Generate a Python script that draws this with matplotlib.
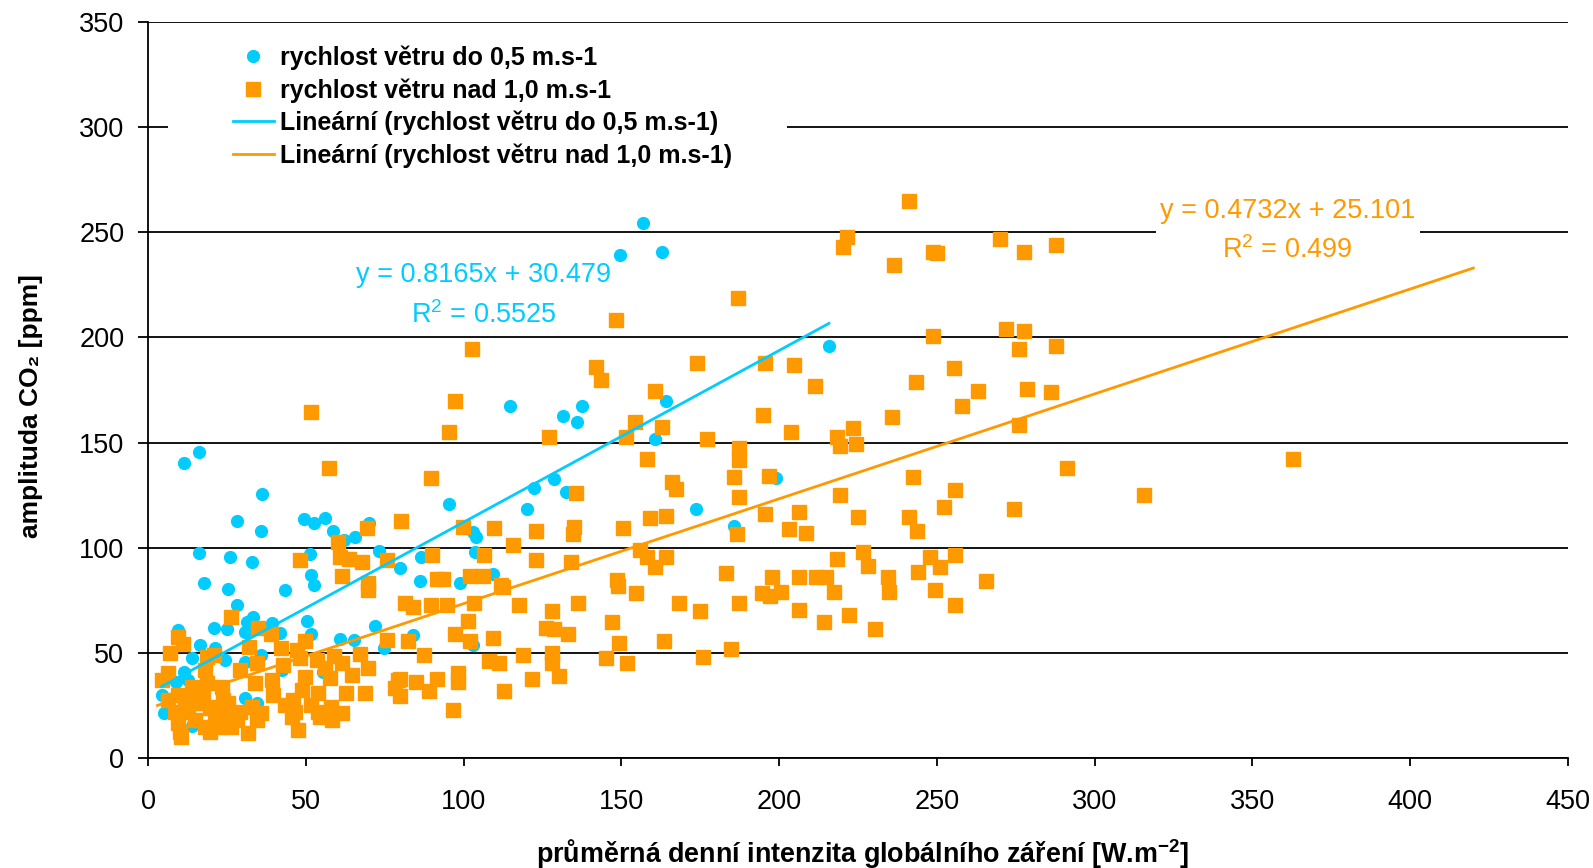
import numpy as np
import matplotlib.pyplot as plt
from matplotlib.patches import Rectangle

plt.rcParams['font.family'] = ['Liberation Sans', 'DejaVu Sans']
plt.rcParams['mathtext.fontset'] = 'custom'
plt.rcParams['mathtext.rm'] = 'Liberation Sans'
plt.rcParams['mathtext.bf'] = 'Liberation Sans:bold'

# wind speed up to 0.5 m/s
blue_x = [11.4, 16.3, 156.9, 149.6, 163.0, 215.8, 164.0, 114.7, 131.4, 137.5, 135.8, 160.7,
          128.7, 122.3, 132.6, 120.0, 173.8, 185.8, 199.0,
          36.2, 28.2, 35.7, 49.3, 52.7, 56.1, 58.7, 65.6, 70.0, 95.5, 103.1, 104.1, 16.2,
          26.1, 33.0, 51.3, 73.3, 79.8, 86.5, 103.6, 109.4, 17.8, 51.6, 52.7, 86.2, 98.9,
          25.3, 43.4, 62.0,
          28.1, 33.4, 31.3, 35.5, 50.5, 71.9, 21.0, 24.9, 9.6, 30.7, 39.2, 41.8, 51.8, 60.8,
          65.4, 74.9, 16.5, 21.2, 14.1, 24.4, 30.7, 35.8, 11.5, 12.8, 8.9, 4.3, 5.2, 13.8,
          18.6, 55.5, 30.7, 34.4, 42.4, 84.1, 103.1]
blue_y = [140.4, 145.4, 254.5, 239.2, 240.8, 195.9, 169.6, 167.4, 162.4, 167.4, 159.9, 151.8,
          132.5, 128.2, 126.6, 118.4, 118.4, 110.5, 133.0,
          125.7, 112.7, 107.8, 113.6, 111.9, 114.3, 108.1, 105.2, 111.6, 120.8, 107.6, 105.2, 97.3,
          95.7, 93.0, 96.8, 98.4, 90.2, 95.7, 97.8, 87.5, 83.0, 87.0, 82.3, 84.2, 83.0,
          80.4, 80.0, 103.7,
          72.8, 67.2, 64.8, 62.4, 65.3, 62.8, 61.7, 61.2, 60.9, 60.1, 64.0, 59.3, 59.0, 56.4,
          56.1, 52.2, 53.7, 52.2, 47.4, 46.6, 45.8, 49.0, 41.0, 37.1, 36.3, 30.0, 21.2, 15.2,
          37.9, 41.0, 28.4, 26.3, 41.8, 58.5, 53.7]

# wind speed above 1.0 m/s
orange_x = [241.2, 270.0, 248.8, 250.1, 277.6, 287.9, 236.5, 221.6, 220.1, 187.0, 148.3, 102.7,
            271.9, 277.6, 248.8, 276.1, 287.9, 255.4, 243.3, 263.1, 278.7, 286.3, 258.0, 276.1,
            291.3, 362.9, 315.7, 255.8, 252.1, 274.4, 247.8, 255.8, 251.0, 244.1, 265.7, 249.5,
            255.8,
            142.1, 143.4, 173.9, 195.5, 204.8, 211.3, 160.7, 194.9, 235.8, 203.7, 223.3, 218.4,
            219.4, 224.3, 127.1, 154.3, 163.0, 151.5, 177.0, 187.4, 187.4, 158.0, 185.8, 196.8,
            166.2, 167.3, 242.3, 135.6, 187.4, 219.4, 159.0, 164.0, 195.5, 206.4, 225.0, 241.2,
            243.7, 122.8, 135.0, 134.8, 150.4, 186.8, 203.2, 208.5, 115.8, 155.9, 158.0, 164.0,
            160.6, 122.8, 134.2, 218.4, 226.6, 228.2, 183.1, 197.6, 206.4, 211.7, 215.0, 234.6,
            148.5,
            194.7, 197.0, 200.5, 217.5, 234.7, 187.4, 206.4, 214.3, 222.0, 230.5, 174.9, 184.7,
            175.8,
            51.5, 97.3, 95.5, 57.5, 89.6, 80.3, 69.5, 99.9, 109.7, 60.3, 48.3, 60.8, 63.7, 67.7,
            75.6, 90.1, 106.5, 61.4, 91.5, 93.6, 102.0, 106.2, 69.6, 111.8,
            112.4, 149.0, 154.8, 168.4, 117.6, 128.1, 136.2, 103.3, 94.8, 89.7, 81.4, 84.1, 101.5,
            97.3, 102.0, 109.2, 82.5, 126.1, 128.6, 133.2, 147.2, 149.3, 163.5, 87.5, 108.1, 111.3,
            118.9, 127.9, 127.9, 145.0, 151.7, 130.3, 121.7, 112.9, 98.3, 98.3, 91.7, 84.9, 89.1,
            79.8, 79.8, 96.7,
            26.3, 34.9, 38.9, 9.6, 11.2, 6.9, 18.6, 21.0, 32.0, 42.1, 47.1, 49.7, 34.7, 42.9, 48.2,
            53.4, 59.0, 67.1, 75.6, 69.6, 4.3, 6.4, 29.2, 18.1, 61.4, 69.8, 49.7, 57.7, 64.5, 79.2,
            78.3, 62.7, 68.8, 53.9, 39.7, 39.2, 33.9, 23.4, 17.5, 13.8, 9.6, 6.4, 25.4, 21.2, 23.9,
            12.8, 8.6, 32.9, 29.2, 43.4, 46.6, 45.5, 51.8, 53.9, 58.0, 58.2, 54.5, 35.8, 34.7, 31.8,
            23.1, 19.6, 18.0, 10.1, 10.5, 9.4, 26.3, 28.1, 47.6, 14.9, 21.2, 24.4, 11.7, 16.0, 19.6,
            14.1, 18.6, 61.4, 46.1, 48.7, 56.0]
orange_y = [265.0, 246.6, 240.7, 240.0, 240.7, 243.9, 234.5, 247.9, 243.1, 218.6, 208.3, 194.3,
            204.0, 203.2, 200.8, 194.3, 196.0, 185.3, 179.0, 174.7, 175.5, 173.9, 167.4, 158.3,
            138.0, 142.0, 125.0, 127.4, 119.2, 118.4, 95.7, 96.5, 90.7, 88.3, 84.2, 79.9,
            72.8,
            186.0, 179.7, 188.0, 188.0, 186.9, 177.0, 174.7, 163.1, 162.3, 155.2, 156.7, 152.8,
            148.4, 149.3, 152.5, 159.9, 157.5, 152.5, 151.8, 147.3, 141.7, 142.0, 133.8, 134.1,
            131.4, 127.9, 133.8, 125.8, 124.2, 125.0, 114.0, 115.2, 116.0, 116.8, 114.4, 114.4,
            108.0, 107.9, 110.0, 106.5, 109.2, 106.3, 108.7, 107.1, 101.3, 98.9, 95.4, 95.4,
            90.7, 94.1, 93.3, 94.6, 98.1, 91.4, 88.1, 86.2, 86.2, 86.2, 86.2, 86.2,
            84.6,
            78.3, 77.0, 79.1, 79.1, 79.1, 73.6, 70.4, 64.5, 68.0, 61.3, 70.0, 51.7,
            48.2,
            164.7, 169.8, 155.0, 137.9, 133.0, 112.7, 109.5, 110.0, 109.5, 102.9, 94.0, 95.7, 94.4, 93.0,
            94.1, 96.5, 96.5, 86.5, 84.9, 84.9, 86.5, 86.5, 83.0, 82.3,
            81.5, 81.8, 78.6, 73.8, 72.8, 70.0, 73.6, 73.8, 72.8, 72.8, 73.6, 71.9, 65.3,
            59.0, 55.6, 57.2, 55.8, 62.0, 61.2, 59.0, 64.5, 54.8, 55.6, 49.0, 46.3, 45.0,
            49.0, 50.0, 45.0, 47.4, 45.0, 39.1, 37.6, 31.9, 40.3, 36.3, 37.6, 36.3, 31.9,
            37.4, 29.5, 22.8,
            66.9, 61.7, 59.0, 57.4, 54.2, 50.1, 48.2, 49.0, 52.9, 52.2, 51.4, 55.8, 45.3, 44.2, 47.4,
            46.6, 48.5, 49.4, 56.1, 79.9, 37.1, 40.3, 41.8, 41.8, 45.0, 42.7, 38.7, 37.9, 39.5, 37.1,
            33.1, 30.8, 30.8, 30.8, 30.0, 37.1, 35.5, 33.9, 30.0, 27.6, 30.0, 27.6, 26.0, 24.4, 27.6,
            22.0, 22.0, 24.4, 22.0, 25.2, 22.0, 19.6, 25.2, 22.0, 24.4, 18.1, 19.6, 21.2, 18.1, 11.7,
            14.9, 12.5, 14.9, 12.5, 10.1, 16.5, 14.9, 18.1, 13.3, 18.1, 19.6, 20.4, 24.4, 26.0, 23.6,
            33.9, 35.5, 21.2, 27.6, 32.3, 43.0]

# linear trends as printed on the chart: slope, intercept, R^2
blue_fit = (0.8165, 30.479, 0.5525)
orange_fit = (0.4732, 25.101, 0.499)
# the orange trend line as it is drawn in the picture (start / forecast end)
orange_trend_x = [3, 420]
orange_trend_y = [25, 233]

series_labels = ['rychlost větru do 0,5 m.s-1', 'rychlost větru nad 1,0 m.s-1',
                 'Lineární (rychlost větru do 0,5 m.s-1)', 'Lineární (rychlost větru nad 1,0 m.s-1)']
x_ticks = np.arange(0, 451, 50)
y_ticks = np.arange(0, 351, 50)

BLUE = '#00CCFF'
ORANGE = '#FF9900'

fig = plt.figure(figsize=(15.93, 8.68), dpi=100)
ax = fig.add_axes([148 / 1593, 110 / 868, 1420 / 1593, 736 / 868])

ax.set_xlim(0, 450)
ax.set_ylim(0, 350)
ax.set_xticks(x_ticks)
ax.set_yticks(y_ticks)
ax.tick_params(axis='both', labelsize=19.5, width=1.3, color='black', direction='out')
ax.tick_params(axis='y', length=7, pad=10)
ax.tick_params(axis='x', length=6, pad=16)
for s in ['top', 'right']:
    ax.spines[s].set_visible(False)
for s in ['left', 'bottom']:
    ax.spines[s].set_linewidth(1.3)
ax.set_axisbelow(True)
ax.yaxis.grid(True, color='black', linewidth=1.3)

h1, = ax.plot(blue_x, blue_y, 'o', color=BLUE, ms=8.5, mec=BLUE, zorder=3)
h2, = ax.plot(orange_x, orange_y, 's', color=ORANGE, ms=10, mec=ORANGE, zorder=4)

bx = np.array([min(blue_x), max(blue_x)])
h3, = ax.plot(bx, blue_fit[0] * bx + blue_fit[1], color=BLUE, lw=2, zorder=5)
h4, = ax.plot(orange_trend_x, orange_trend_y, color=ORANGE, lw=2, zorder=5)

# white patch behind the legend hides the 300 gridline there
ax.add_patch(Rectangle((0.014, 0.80), 0.436, 0.18, transform=ax.transAxes,
                       facecolor='white', edgecolor='none', zorder=2))
ax.legend([h1, h2, h3, h4], series_labels, loc='upper left', bbox_to_anchor=(0.06, 0.968),
          frameon=False, prop={'weight': 'bold', 'size': 18}, handlelength=1.62,
          handletextpad=0.24, labelspacing=0.32, borderpad=0, borderaxespad=0)

ax.text(106.3, 219.8, 'y = %.4fx + %.3f\nR$^2$ = %.4f' % blue_fit, color=BLUE, fontsize=19.5,
        ha='center', va='center', multialignment='center', linespacing=1.6, zorder=6)
ax.text(361.2, 250.6, 'y = %.4fx + %.3f\nR$^2$ = %.3f' % orange_fit, color=ORANGE, fontsize=19.5,
        ha='center', va='center', multialignment='center', linespacing=1.6, zorder=6,
        bbox=dict(facecolor='white', edgecolor='none', pad=3))

ax.set_ylabel('amplituda CO₂ [ppm]', fontsize=19, fontweight='bold', va='center')
ax.yaxis.set_label_coords(-0.0825, 0.4776)
ax.set_xlabel(r'průměrná denní intenzita globálního záření [W.m$^{\mathbf{-2}}$]',
              fontsize=19.4, fontweight='bold', va='center')
ax.xaxis.set_label_coords(0.503, -0.13)

fig.savefig('out.png', dpi=100)
